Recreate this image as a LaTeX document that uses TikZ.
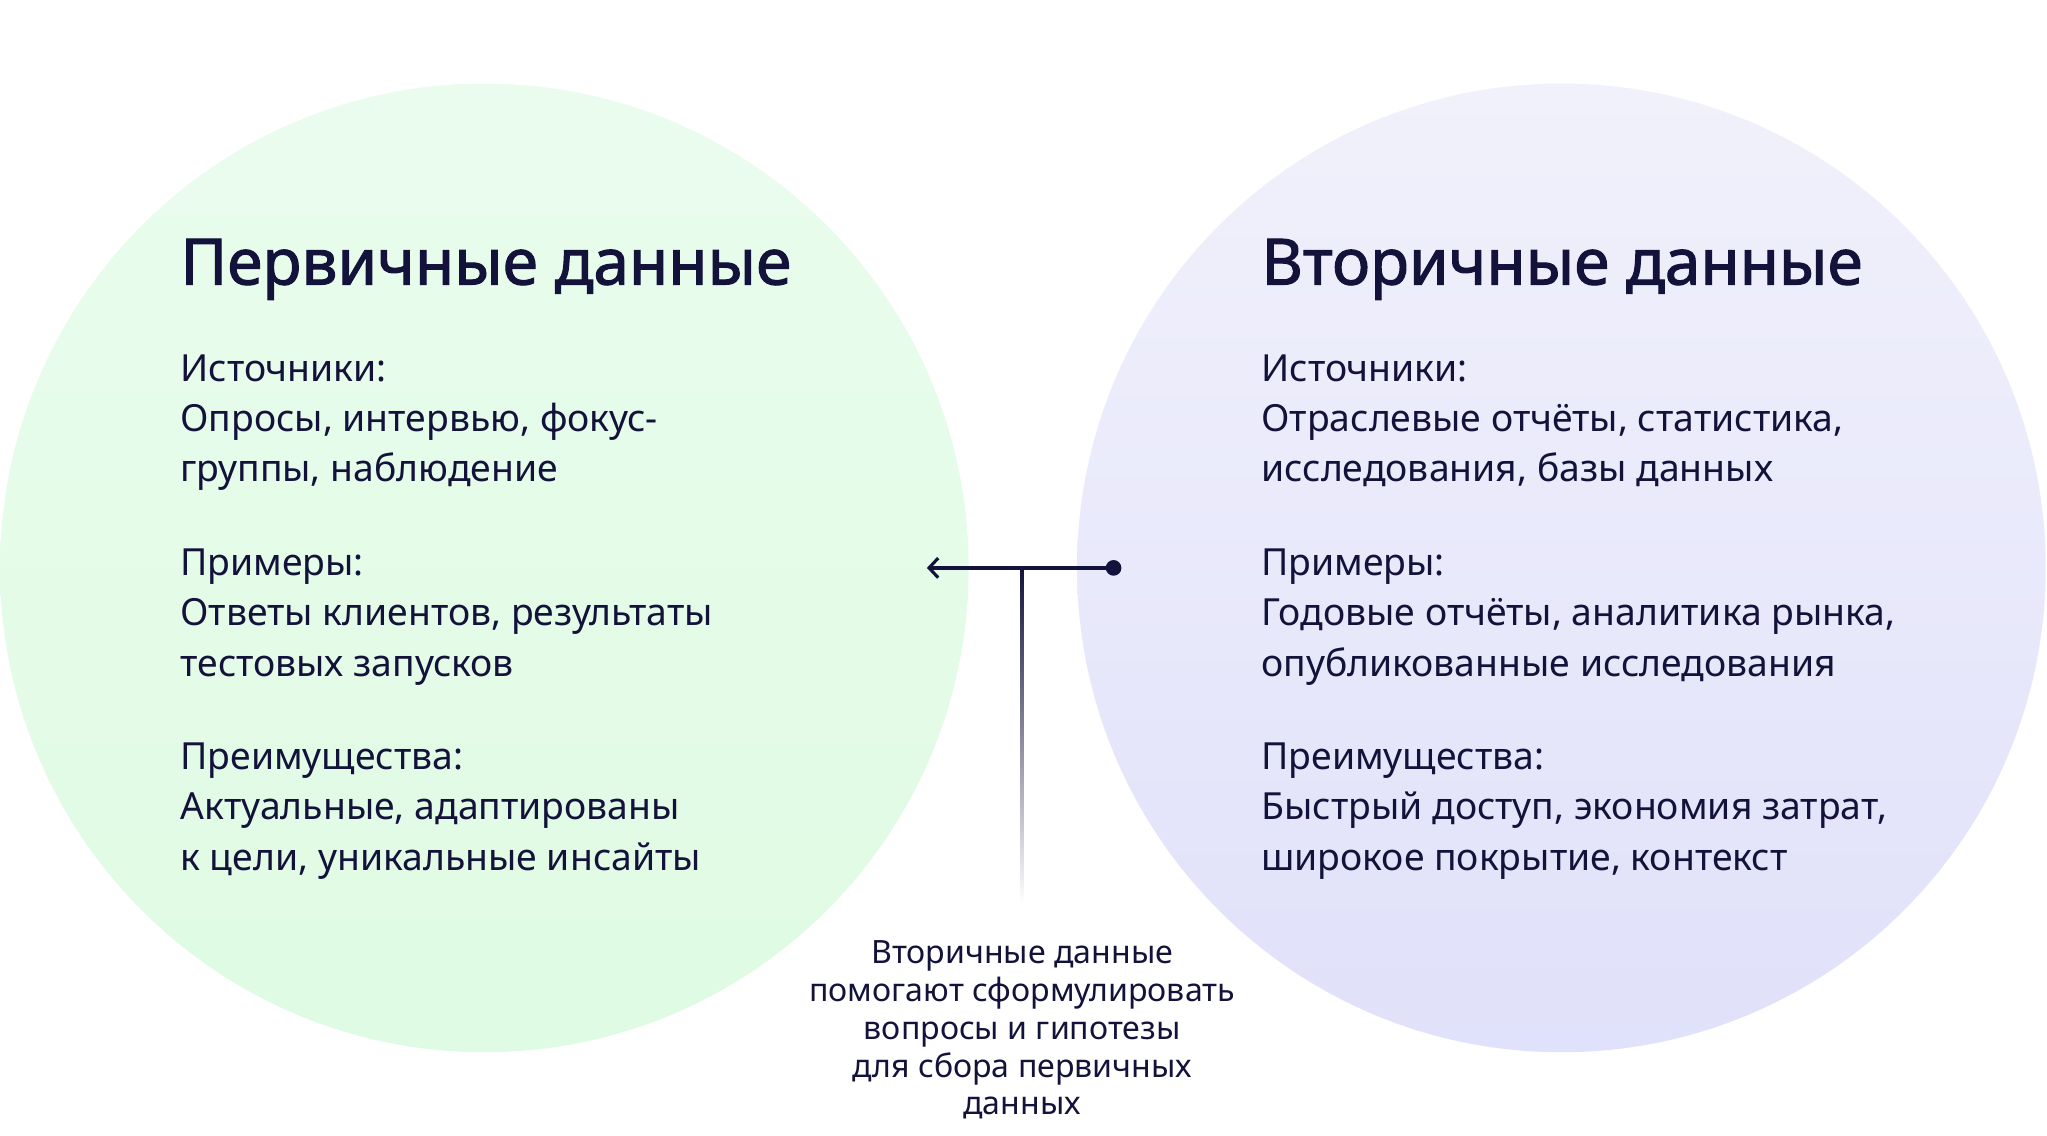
\documentclass[tikz,border=0pt]{standalone}
\usepackage{fontspec}
\setmainfont{Noto Sans}
\newfontfamily\titlefont{Noto Sans}[FakeBold=1.6]
\usetikzlibrary{arrows.meta}
\definecolor{ink}{HTML}{13123A}
\definecolor{greenTop}{HTML}{EAFCEE}
\definecolor{greenBot}{HTML}{DFFBE3}
\definecolor{violTop}{HTML}{F1F1FB}
\definecolor{violBot}{HTML}{E0E1FA}
\tikzset{
  title/.style={anchor=base west, inner sep=0pt, text=ink, font=\titlefont\fontsize{49}{58}\selectfont},
  body/.style={anchor=base west, inner sep=0pt, text=ink, font=\fontsize{28.6}{38}\selectfont},
  note/.style={anchor=base, inner sep=0pt, text=ink, font=\fontsize{24.6}{29}\selectfont},
  link/.style={draw=ink, line width=2.6pt},
}
\begin{document}
\begin{tikzpicture}[x=1pt,y=-1pt]
\useasboundingbox (0,0) rectangle (1568,870);
% circles
\shade[top color=greenTop, bottom color=greenBot] (371,435) circle[radius=371];
\shade[top color=violTop, bottom color=violBot] (1196,435) circle[radius=371];
% left column
\node[title] (lt) at (138,218) {Первичные данные};
\node[body] (l1) at (138,292) {Источники:};
\node[body] (l2) at (138,330.5) {Опросы, интервью, фокус-};
\node[body] (l3) at (138,369) {группы, наблюдение};
\node[body] (l4) at (138,441) {Примеры:};
\node[body] (l5) at (138,479.5) {Ответы клиентов, результаты};
\node[body] (l6) at (138,518) {тестовых запусков};
\node[body] (l7) at (138,589.5) {Преимущества:};
\node[body] (l8) at (138,628) {Актуальные, адаптированы};
\node[body] (l9) at (138,666.5) {к цели, уникальные инсайты};
% right column
\node[title] (rt) at (966,218) {Вторичные данные};
\node[body] (r1) at (966,292) {Источники:};
\node[body] (r2) at (966,330.5) {Отраслевые отчёты, статистика,};
\node[body] (r3) at (966,369) {исследования, базы данных};
\node[body] (r4) at (966,441) {Примеры:};
\node[body] (r5) at (966,479.5) {Годовые отчёты, аналитика рынка,};
\node[body] (r6) at (966,518) {опубликованные исследования};
\node[body] (r7) at (966,589.5) {Преимущества:};
\node[body] (r8) at (966,628) {Быстрый доступ, экономия затрат,};
\node[body] (r9) at (966,666.5) {широкое покрытие, контекст};
% connector
\node[circle, fill=ink, inner sep=0pt, minimum size=12pt] (dot) at (853,435) {};
\coordinate (tip) at (710,435);
\coordinate (junc) at (783,435);
\coordinate (fadeEnd) at (783,692);
\shade[top color=ink, bottom color=white] ([xshift=-1.2pt]junc) rectangle ([xshift=1.2pt]fadeEnd);
\draw[link, -{Straight Barb[length=7pt,width=15pt,line width=2.4pt]}] (dot.center) -- (tip);
% note
\node[note] (n1) at (783,738) {Вторичные данные};
\node[note] (n2) at (783,767) {помогают сформулировать};
\node[note] (n3) at (783,796) {вопросы и гипотезы};
\node[note] (n4) at (783,825) {для сбора первичных};
\node[note] (n5) at (783,854) {данных};
\end{tikzpicture}
\end{document}
